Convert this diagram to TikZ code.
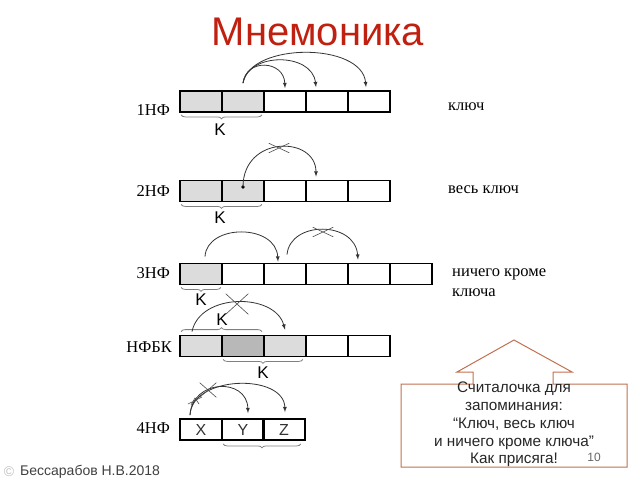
\documentclass[tikz,border=0pt]{standalone}
\usepackage{fontspec}
\setmainfont{Liberation Serif}
\newfontfamily\sansf{Liberation Sans}
\usetikzlibrary{decorations.pathreplacing,shapes.misc}
\definecolor{titlered}{RGB}{192,32,16}
\definecolor{memobrown}{RGB}{192,112,80}
\definecolor{keygray}{RGB}{220,220,220}
\definecolor{keydark}{RGB}{184,184,184}

\begin{document}
\begin{tikzpicture}[x=1pt,y=-1pt]
\tikzstyle{every node}+=[inner sep=0pt]
\tikzstyle{cell}=[draw=black,line width=1.8pt,minimum width=42pt,minimum height=21pt]
\tikzstyle{keycell}=[cell,fill=keygray]
\tikzstyle{arc}=[draw=black!80,line width=0.8pt,-latex]
\tikzstyle{brc}=[draw=black!50,line width=0.8pt,decorate,decoration={brace,amplitude=4pt}]
\tikzstyle{crossmark}=[draw=black!70,line width=0.6pt,cross out,minimum width=20pt,minimum height=9pt]
\tikzstyle{rowlabel}=[anchor=east,font=\fontsize{16.5}{19}\selectfont]
\tikzstyle{nflabel}=[anchor=west,font=\fontsize{16.5}{20}\selectfont]
\tikzstyle{kletter}=[font=\sansf\fontsize{17}{20}\selectfont]
\useasboundingbox (0,0) rectangle (640,480);
\node[text=titlered,font=\sansf\fontsize{40}{48}\selectfont] (title) at (318,32) {Мнемоника};
\node[rowlabel] (l1) at (170,110) {1НФ};
\node[keycell] (a1) at (201,101.5) {};
\node[keycell] (a2) at (243,101.5) {};
\node[cell] (a3) at (285,101.5) {};
\node[cell] (a4) at (327,101.5) {};
\node[cell] (a5) at (369,101.5) {};
\draw[brc,decoration={mirror}] ([xshift=2pt,yshift=-2pt]a1.south west) -- ([xshift=-3pt,yshift=-2pt]a2.south east);
\node[kletter] (k1) at (220,130) {K};
\draw[arc] ([yshift=7pt]a2.north) .. controls +(3,-25) and +(-1,-28) .. ([yshift=2pt]a3.north);
\draw[arc] ([yshift=7pt]a2.north) .. controls +(5,-31) and +(-4,-35) .. ([xshift=-11pt,yshift=3pt]a4.north);
\draw[arc] ([yshift=7pt]a2.north) .. controls +(7,-41) and +(-4,-45) .. ([xshift=-3pt,yshift=3pt]a5.north);
\node[nflabel] (n1) at (448,107) {ключ};
\node[rowlabel] (l2) at (170,191.5) {2НФ};
\node[keycell] (b1) at (201,191) {};
\node[keycell] (b2) at (243,191) {};
\node[cell] (b3) at (285,191) {};
\node[cell] (b4) at (327,191) {};
\node[cell] (b5) at (369,191) {};
\draw[brc,decoration={mirror}] ([xshift=2pt,yshift=-2pt]b1.south west) -- ([xshift=-3pt,yshift=-2pt]b2.south east);
\node[kletter] (k2) at (220,218) {K};
\coordinate (b2s) at ([yshift=4pt]b2.center);
\fill[black] (b2s) circle (1.8pt);
\draw[arc] (b2s) .. controls +(0,-52) and +(0,-41) .. ([xshift=-11pt,yshift=3pt]b4.north);
\node[crossmark] (x2) at (279,148) {};
\node[nflabel] (n2) at (448,190) {весь ключ};
\node[rowlabel] (l3) at (170,273) {3НФ};
\node[keycell] (c1) at (201,274) {};
\node[cell] (c2) at (243,274) {};
\node[cell] (c3) at (285,274) {};
\node[cell] (c4) at (327,274) {};
\node[cell] (c5) at (369,274) {};
\node[cell] (c6) at (411,274) {};
\draw[brc,decoration={mirror}] ([xshift=2pt,yshift=-2pt]c1.south west) -- ([xshift=-2pt,yshift=-2pt]c1.south east);
\node[kletter] (k3) at (201,300) {K};
\draw[arc] ([xshift=4pt,yshift=6pt]c1.north) .. controls +(2,-33) and +(-2,-38) .. ([xshift=-7pt,yshift=1pt]c3.north);
\draw[arc] ([xshift=2pt,yshift=8pt]c3.north) .. controls +(3,-34) and +(-3,-39) .. ([xshift=-11pt,yshift=3pt]c5.north);
\node[crossmark] (x3) at (323,232) {};
\node[nflabel,anchor=north west,align=left] (n3) at (452,269) {ничего кроме\\ключа};
\node[rowlabel] (l4) at (172,347.5) {НФБК};
\node[keycell] (d1) at (201,346) {};
\node[cell,fill=keydark] (d2) at (243,346) {};
\node[keycell] (d3) at (285,346) {};
\node[cell] (d4) at (327,346) {};
\node[cell] (d5) at (369,346) {};
\draw[brc] ([xshift=2pt,yshift=3pt]d1.north west) -- ([xshift=-3pt,yshift=3pt]d2.north east);
\node[kletter] (k4) at (222,320) {K};
\draw[brc,decoration={mirror}] ([xshift=2pt,yshift=-2pt]d2.south west) -- ([xshift=-4pt,yshift=-2pt]d3.south east);
\node[kletter] (k5) at (263,373) {K};
\draw[arc] ([xshift=-9pt,yshift=3pt]d1.north) .. controls +(8,-39) and +(-10,-37) .. ([yshift=5pt]d3.north);
\node[crossmark,minimum width=22pt,minimum height=20pt] (x4) at (237,304) {};
\node[rowlabel] (l5) at (170,428) {4НФ};
\node[cell,font=\sansf\fontsize{16}{18}\selectfont,text=black!80] (e1) at (201,429.5) {X};
\node[cell,font=\sansf\fontsize{16}{18}\selectfont,text=black!80] (e2) at (243,429.5) {Y};
\node[cell,font=\sansf\fontsize{16}{18}\selectfont,text=black!80] (e3) at (284,429.5) {Z};
\draw[brc,decoration={mirror}] ([xshift=2pt,yshift=-3pt]e2.south west) -- ([xshift=-5pt,yshift=-3pt]e3.south east);
\coordinate (e1s) at ([xshift=-11pt,yshift=3pt]e1.north);
\draw[arc] (e1s) .. controls +(2,-36) and +(-1,-36) .. ([xshift=5pt,yshift=5pt]e2.north);
\draw[arc] (e1s) .. controls +(2,-40) and +(-1,-39) .. ([xshift=1pt,yshift=6pt]e3.north);
\node[crossmark,minimum width=16pt,minimum height=14pt] (x5) at (208,390) {};
\draw[black!70,line width=0.6pt] (188,404) -- (202,397) (191,405) -- (195,398) -- (199,404);
\draw[memobrown,line width=1pt] (401,384) -- (473,384) -- (473,372) -- (457,372) -- (514,340) -- (572,372) -- (553,372) -- (553,384) -- (627,384) -- (627,467) -- (401,467) -- cycle;
\node[align=center,text=black!85,font=\sansf\fontsize{15.3}{17.75}\selectfont] (memo) at (514,424.5) {Считалочка для\\запоминания:\\“Ключ, весь ключ\\и ничего кроме ключа”\\Как присяга!};
\node[text=black!60,font=\sansf\fontsize{12}{14}\selectfont] (pnum) at (594,457) {10};
\node[text=black!25,font=\sansf\fontsize{14}{16}\selectfont] (copy) at (9,472) {©};
\node[anchor=west,text=black!75,font=\sansf\fontsize{14}{16}\selectfont] (auth) at (20,472) {Бессарабов Н.В.2018};
\end{tikzpicture}
\end{document}
